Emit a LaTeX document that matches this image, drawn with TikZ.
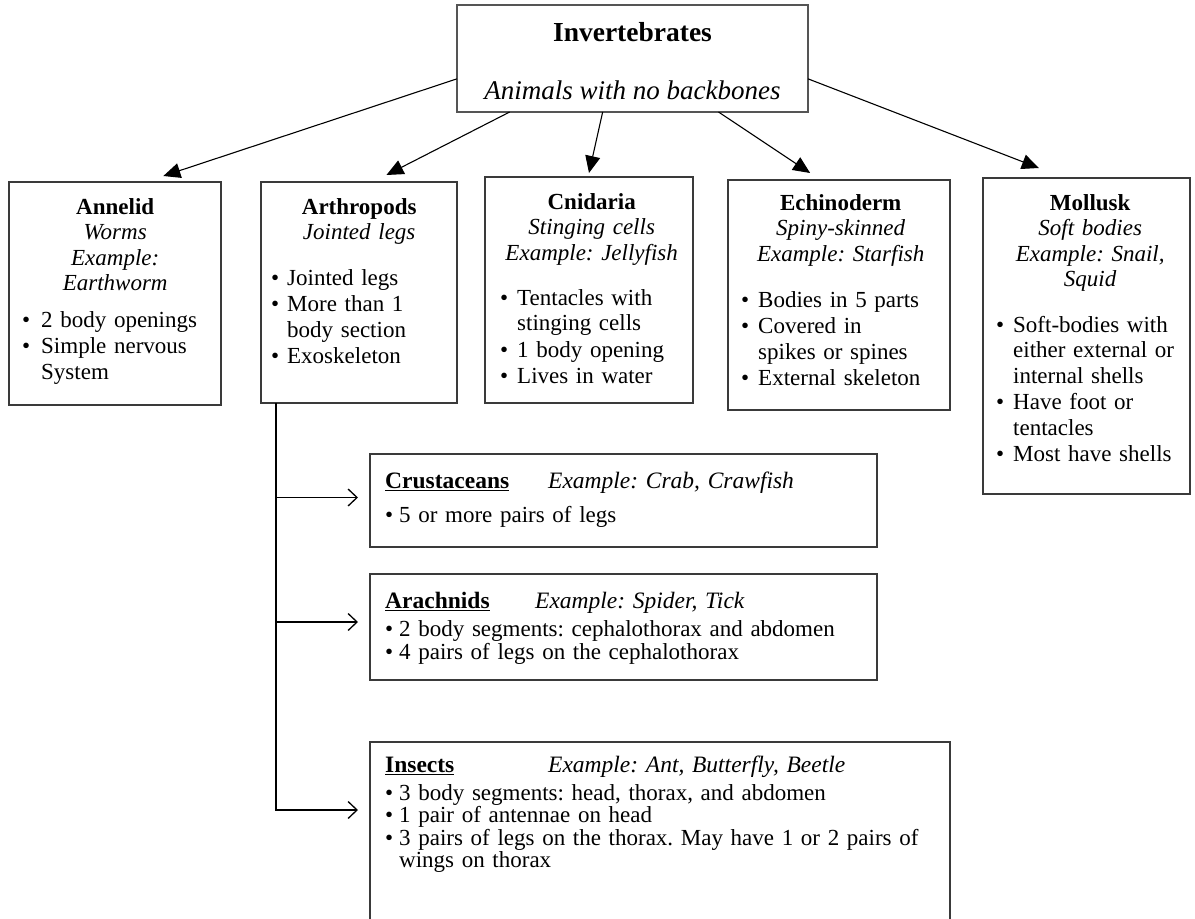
\documentclass[tikz,border=0pt]{standalone}
\usepackage{fontspec}
\setmainfont{Liberation Serif}
\usetikzlibrary{arrows.meta,calc}
\definecolor{boxc}{HTML}{3A3A3A}
\definecolor{topc}{HTML}{555555}
\AtBeginDocument{\frenchspacing}
\newlength\bind
\newlength\isep
\setlength\bind{16pt}
\setlength\isep{1pt}
\newcommand\nl{\hfil\break}
\newcommand\bitm[1]{\par\vspace{\isep}\hangindent=\bind\hangafter=1\noindent\hbox to\bind{\textbullet\hfil}#1}
\newcommand\ltitle[3]{{\fontsize{23.5}{26}\selectfont\makebox[#1][l]{\underline{\textbf{#2}}}\textit{#3}\par}}
\begin{document}
\begin{tikzpicture}[x=1pt,y=-1pt]
\tikzset{
 box/.style={draw=boxc, line width=1.5pt, rectangle, inner sep=0pt, outer sep=0pt, anchor=north west},
 up/.style={inner sep=0pt, anchor=north west, text width=#1, align=left, font=\fontsize{23}{25.5}\selectfont},
 low/.style={inner sep=0pt, anchor=north west, text width=#1, align=left, font=\fontsize{23}{22.5}\selectfont},
 tri/.style={draw=black, line width=1.1pt, -{Triangle[length=17pt,width=15pt]}},
 barb/.style={draw=black, line width=1.3pt, -{Straight Barb[length=9pt,width=17pt,line width=1.3pt]}},
}
\useasboundingbox (0,0) rectangle (1195,919);
\fill[white] (0,0) rectangle (1195,919);
\clip (0,0) rectangle (1195,919);

% top box
\node[box, draw=topc, line width=2pt, minimum width=351pt, minimum height=107pt] (top) at (457,5) {};
\node[anchor=base, inner sep=0pt, font=\fontsize{27.5}{32}\selectfont\bfseries] (topT) at ($(top.north)+(0,36)$) {Invertebrates};
\node[anchor=base, inner sep=0pt, font=\fontsize{27}{32}\selectfont\itshape] (topS) at ($(top.north)+(0,94)$) {Animals with no backbones};

% upper row
\node[box, minimum width=212pt, minimum height=223pt] (ann) at (9,182) {};
\node[up=186pt] (annT) at ($(ann.north west)+(13,16)$) {\setlength\bind{19pt}%
{\centering\textbf{Annelid}\\\textit{Worms}\\\textit{Example:}\\\textit{Earthworm}\par}
\vspace{10pt}
\bitm{2 body openings}
\bitm{Simple nervous\nl System}\par};

\node[box, minimum width=196pt, minimum height=221pt] (arth) at (261,182) {};
\node[up=176pt] (arthT) at ($(arth.north west)+(10,16)$) {%
{\centering\textbf{Arthropods}\\\textit{Jointed legs}\par}
\vspace{19pt}
\bitm{Jointed legs}
\bitm{More than 1\nl body section}
\bitm{Exoskeleton}\par};

\node[box, minimum width=208pt, minimum height=226pt] (cnid) at (485,177) {};
\node[up=183pt] (cnidT) at ($(cnid.north west)+(15,16)$) {\setlength\bind{17pt}%
{\centering\textbf{Cnidaria}\\\textit{Stinging cells}\\\textit{Example: Jellyfish}\par}
\vspace{18.5pt}
\bitm{Tentacles with\nl stinging cells}
\bitm{1 body opening}
\bitm{Lives in water}\par};

\node[box, minimum width=222pt, minimum height=230pt] (echi) at (728,180) {};
\node[up=199pt] (echiT) at ($(echi.north west)+(13,14)$) {\setlength\bind{17pt}%
{\centering\textbf{Echinoderm}\\\textit{Spiny-skinned}\\\textit{Example: Starfish}\par}
\vspace{19.5pt}
\bitm{Bodies in 5 parts}
\bitm{Covered in\nl spikes or spines}
\bitm{External skeleton}\par};

\node[box, minimum width=207pt, minimum height=316pt] (moll) at (983,178) {};
\node[up=188pt] (mollT) at ($(moll.north west)+(13,16)$) {\setlength\bind{17pt}%
{\centering\textbf{Mollusk}\\\textit{Soft bodies}\\\textit{Example: Snail,}\\\textit{Squid}\par}
\vspace{19pt}
\bitm{Soft-bodies with\nl either external or\nl internal shells}
\bitm{Have foot or\nl tentacles}
\bitm{Most have shells}\par};

% lower boxes
\node[box, minimum width=507pt, minimum height=93pt] (cr) at (370,454) {};
\node[low=485pt] (crT) at ($(cr.north west)+(15,18)$) {\setlength\isep{0pt}\setlength\bind{14pt}%
\ltitle{163pt}{Crustaceans}{Example: Crab, Crawfish}
\vspace{11.5pt}
\bitm{5 or more pairs of legs}\par};

\node[box, minimum width=507pt, minimum height=106pt] (ar) at (370,574) {};
\node[low=485pt] (arT) at ($(ar.north west)+(15,18)$) {\setlength\isep{0pt}\setlength\bind{14pt}%
\ltitle{150pt}{Arachnids}{Example: Spider, Tick}
\vspace{5.5pt}
\bitm{2 body segments: cephalothorax and abdomen}
\bitm{4 pairs of legs on the cephalothorax}\par};

\node[box, minimum width=580pt, minimum height=220pt] (ins) at (370,742) {};
\node[low=565pt] (insT) at ($(ins.north west)+(15,14)$) {\setlength\isep{0pt}\setlength\bind{14pt}%
\ltitle{163pt}{Insects}{Example: Ant, Butterfly, Beetle}
\vspace{5pt}
\bitm{3 body segments: head, thorax, and abdomen}
\bitm{1 pair of antennae on head}
\bitm{3 pairs of legs on the thorax. May have 1 or 2 pairs of\nl wings on thorax}\par};

% arrows from top
\draw[tri] ($(top.south west)!0.31!(top.north west)$) -- ($(ann.north west)!0.728!(ann.north east)+(0,-6)$);
\draw[tri] ($(top.south west)!0.15!(top.south east)$) -- ($(arth.north west)!0.64!(arth.north east)+(0,-7)$);
\draw[tri] ($(top.south west)!0.415!(top.south east)$) -- ($(cnid.north)+(0,-4)$);
\draw[tri] ($(top.south west)!0.745!(top.south east)$) -- ($(echi.north west)!0.37!(echi.north east)+(0,-7)$);
\draw[tri] ($(top.south east)!0.31!(top.north east)$) -- ($(moll.north west)!0.27!(moll.north east)+(0,-10)$);

% branch
\coordinate (trunk) at ($(arth.south west)!0.077!(arth.south east)$);
\coordinate (crIn) at ($(cr.west)+(-12,-3)$);
\coordinate (arIn) at ($(ar.west)+(-12,-5)$);
\coordinate (inIn) at ($(ins.north west)+(-12,68)$);
\draw[barb] (trunk) |- (inIn);
\draw[barb] (trunk |- crIn) -- (crIn);
\draw[barb] (trunk |- arIn) -- (arIn);
\end{tikzpicture}
\end{document}
